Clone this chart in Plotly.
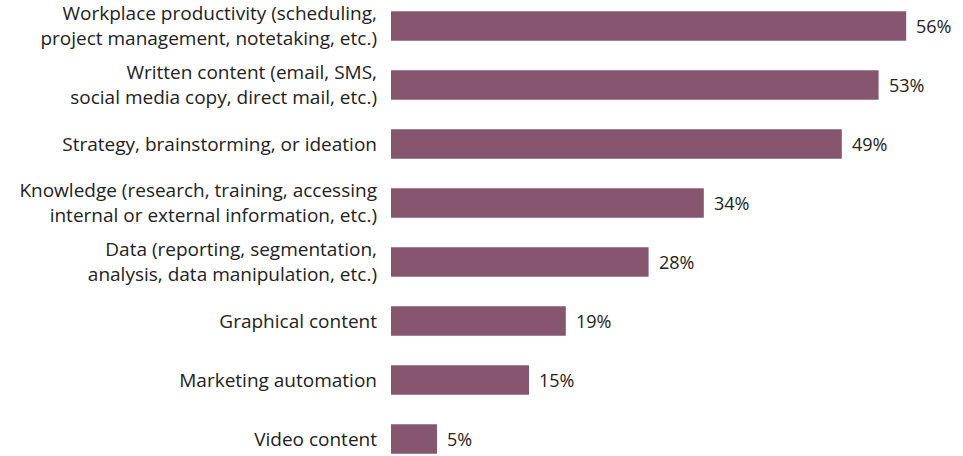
import plotly.graph_objects as go

categories = [
    "Workplace productivity (scheduling,<br>project management, notetaking, etc.)",
    "Written content (email, SMS,<br>social media copy, direct mail, etc.)",
    "Strategy, brainstorming, or ideation",
    "Knowledge (research, training, accessing<br>internal or external information, etc.)",
    "Data (reporting, segmentation,<br>analysis, data manipulation, etc.)",
    "Graphical content",
    "Marketing automation",
    "Video content",
]
values = [56, 53, 49, 34, 28, 19, 15, 5]
labels = [f"{v}%" for v in values]

bar_color = "#85566e"
text_color = "#222222"
font_family = "Open Sans"

fig = go.Figure()
fig.add_trace(go.Bar(
    x=values, y=categories, orientation="h",
    marker=dict(color=bar_color, line=dict(width=0)),
    width=0.5,
    hoverinfo="skip",
))
for v, c, t in zip(values, categories, labels):
    fig.add_annotation(x=v, y=c, text=t, xanchor="left", yanchor="middle",
                       xshift=8, showarrow=False,
                       font=dict(family=font_family, size=18, color=text_color))

fig.update_layout(
    width=963, height=456,
    margin=dict(l=391, r=20, t=0, b=0, pad=0),
    paper_bgcolor="white", plot_bgcolor="white",
    showlegend=False,
    font=dict(family=font_family, size=18, color=text_color),
)
fig.update_xaxes(range=[0, 60], visible=False, fixedrange=True, automargin=False)
fig.update_yaxes(type="category", categoryorder="array", categoryarray=categories,
                 range=[7.29, -0.44], showgrid=False, showline=False, zeroline=False,
                 ticks="", ticklabelstandoff=13, fixedrange=True, automargin=False,
                 tickfont=dict(family=font_family, size=19, color=text_color))

fig.write_html("out.html",
               config={"displayModeBar": False, "staticPlot": True},
               post_script="document.body.style.margin='0';document.body.style.overflow='hidden';")
